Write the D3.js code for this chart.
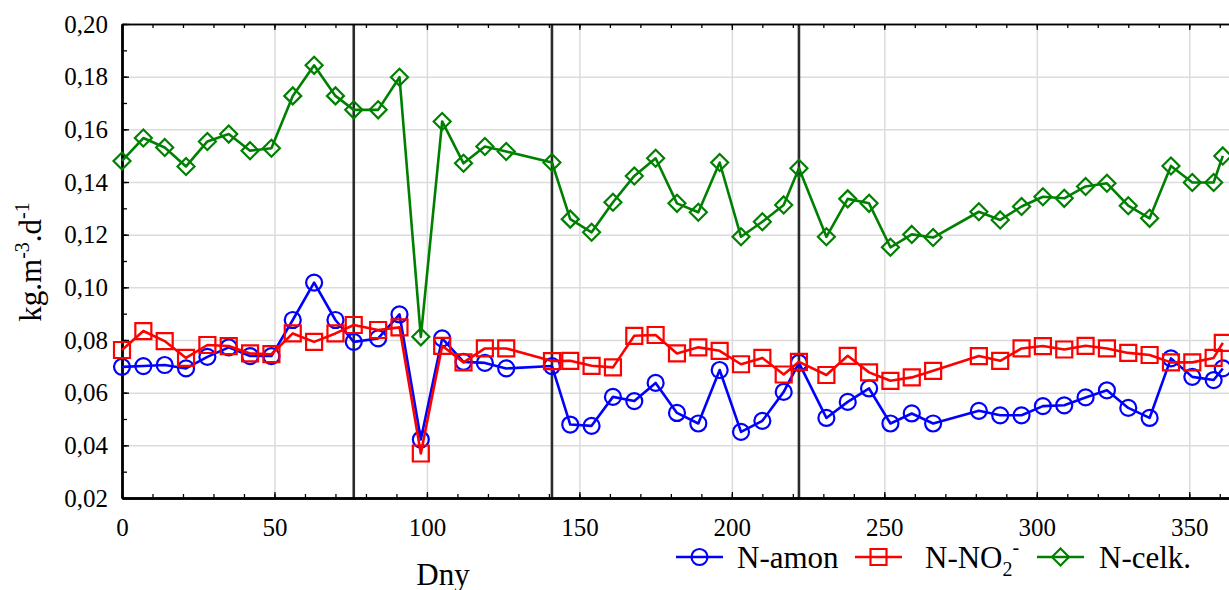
<!DOCTYPE html>
<html>
<head>
<meta charset="utf-8">
<script src="https://cdn.jsdelivr.net/npm/d3@7"></script>
<style>
  body { margin: 0; background: #fff; }
  .grid line { stroke: #dcdcdc; stroke-width: 1.5; }
  .grid path { display: none; }
  .axis path { stroke: #000; }
  .axis line { stroke: #000; stroke-width: 1.3; }
  .series { fill: none; stroke-width: 2.6; stroke-linejoin: round; }
  .mark { fill: none; stroke-width: 2.2; }
  .breakLine { stroke: #2b2b2b; stroke-width: 2.6; }
</style>
</head>
<body>
<div id="chart"></div>
<script>
// Nitrogen loading over the year

var days = [0, 7, 14, 21, 28, 35, 42, 49, 56, 63, 70,
            76, 84, 91, 98, 105, 112, 119, 126,
            141,
            147, 154, 161, 168, 175, 182, 189, 196, 203, 210, 217,
            222,
            231, 238, 245, 252, 259, 266,
            281, 288, 295, 302, 309, 316, 323, 330, 337, 344, 351, 358,
            361];

var nAmon = [0.0698, 0.0701, 0.0705, 0.0692, 0.0736, 0.0772, 0.0739, 0.0739, 0.0876, 0.1018, 0.0876,
             0.0793, 0.0806, 0.0897, 0.0422, 0.0806, 0.0717, 0.0713, 0.0692,
             0.0701,
             0.0479, 0.0474, 0.0584, 0.0568, 0.0637, 0.0523, 0.0483, 0.0686, 0.0451, 0.0493, 0.0603,
             0.0713,
             0.0504, 0.0565, 0.0616, 0.0483, 0.0521, 0.0483,
             0.0531, 0.0514, 0.0514, 0.0549, 0.0552, 0.0582, 0.0609, 0.0542, 0.0504, 0.0730, 0.0660, 0.0648,
             0.0692];

var nNO2 = [0.0762, 0.0834, 0.0796, 0.0732, 0.0781, 0.0777, 0.0749, 0.0746, 0.0825, 0.0793, 0.0825,
            0.0857, 0.0838, 0.0848, 0.0369, 0.0778, 0.0715, 0.0768, 0.0768,
            0.0720,
            0.0721, 0.0702, 0.0696, 0.0816, 0.0819, 0.0749, 0.0772, 0.0759, 0.0708, 0.0732, 0.0669,
            0.0717,
            0.0667, 0.0740, 0.0677, 0.0645, 0.0658, 0.0683,
            0.0739, 0.0721, 0.0768, 0.0777, 0.0764, 0.0778, 0.0768, 0.0751, 0.0743, 0.0715, 0.0715, 0.0732,
            0.0789];

var nCelk = [0.1480, 0.1567, 0.1531, 0.1459, 0.1554, 0.1582, 0.1519, 0.1528, 0.1727, 0.1843, 0.1727,
             0.1674, 0.1674, 0.1798, 0.0812, 0.1630, 0.1471, 0.1535, 0.1516,
             0.1474,
             0.1259, 0.1209, 0.1323, 0.1423, 0.1490, 0.1319, 0.1285, 0.1474, 0.1192, 0.1249, 0.1313,
             0.1452,
             0.1192, 0.1336, 0.1319, 0.1152, 0.1201, 0.1189,
             0.1287, 0.1256, 0.1307, 0.1344, 0.1338, 0.1383, 0.1395, 0.1310, 0.1262, 0.1461, 0.1398, 0.1398,
             0.1499];

// phase boundaries (black vertical lines)
var breaks = [76, 141, 222];

var xTicks = [0, 50, 100, 150, 200, 250, 300, 350];
var yTicks = [0.02, 0.04, 0.06, 0.08, 0.10, 0.12, 0.14, 0.16, 0.18, 0.20];

var serif = "'Liberation Serif', 'Times New Roman', Tinos, 'DejaVu Serif', serif";

var width = 1229, height = 590;
var margin = {left: 122, top: 24};
var innerWidth = 1113, innerHeight = 474;

var svg = d3.select("#chart").append("svg")
    .attr("width", width)
    .attr("height", height)
    .style("font-family", serif);

var g = svg.append("g")
    .attr("transform", "translate(" + margin.left + "," + margin.top + ")");

var x = d3.scaleLinear().domain([0, 365]).range([0, innerWidth]);
var y = d3.scaleLinear().domain([0.02, 0.20]).range([innerHeight, 0]);

var minorX = d3.range(0, 366, 10);
var minorY = d3.range(0.02, 0.2001, 0.01);

// Gridlines
g.append("g").attr("class", "grid")
    .call(d3.axisLeft(y).tickValues(yTicks.slice(1, -1)).tickSize(-innerWidth).tickFormat(""));
g.append("g").attr("class", "grid")
    .attr("transform", "translate(0," + innerHeight + ")")
    .call(d3.axisBottom(x).tickValues(xTicks.slice(1)).tickSize(-innerHeight).tickFormat(""));

// Phase lines
g.selectAll(".breakLine")
    .data(breaks)
    .enter()
    .append("line")
    .attr("class", "breakLine")
    .attr("x1", function (d) { return x(d); })
    .attr("x2", function (d) { return x(d); })
    .attr("y1", 0)
    .attr("y2", innerHeight);

// Axes - ticks point into the plot
function styleTicks(sel, size) {
    sel.select(".domain").attr("stroke-width", size);
    sel.attr("font-family", serif).attr("font-size", 25);
    sel.selectAll("text").attr("fill", "#000").style("font-family", serif).style("font-size", "25px");
}

g.append("g").attr("class", "axis")
    .call(d3.axisLeft(y).tickValues(minorY).tickSize(-5).tickSizeOuter(0).tickFormat(""))
    .call(styleTicks, 2.4);
g.append("g").attr("class", "axis")
    .call(d3.axisLeft(y).tickValues(yTicks).tickSize(-7).tickSizeOuter(0).tickPadding(14)
        .tickFormat(function (d) { return d3.format(".2f")(d).replace(".", ","); }))
    .call(styleTicks, 2.4);

g.append("g").attr("class", "axis")
    .attr("transform", "translate(0," + innerHeight + ")")
    .call(d3.axisBottom(x).tickValues(minorX).tickSize(-4).tickSizeOuter(0).tickFormat(""))
    .call(styleTicks, 2.4);
g.append("g").attr("class", "axis")
    .attr("transform", "translate(0," + innerHeight + ")")
    .call(d3.axisBottom(x).tickValues(xTicks).tickSize(-6).tickSizeOuter(0).tickPadding(20))
    .call(styleTicks, 2.4);

g.append("g").attr("class", "axis")
    .call(d3.axisTop(x).tickValues(minorX).tickSize(-4).tickSizeOuter(0).tickFormat(""))
    .call(styleTicks, 1.6);
g.append("g").attr("class", "axis")
    .call(d3.axisTop(x).tickValues(xTicks).tickSize(-6).tickSizeOuter(0).tickFormat(""))
    .call(styleTicks, 1.6);

// Series
var series = [
    {name: "N-amon", values: nAmon, color: "#0000ff", shape: "circle"},
    {name: "N-NO2", values: nNO2, color: "#ff0000", shape: "square"},
    {name: "N-celk.", values: nCelk, color: "#008000", shape: "diamond"}
];

function markerPath(shape) {
    if (shape === "circle") { return d3.symbol().type(d3.symbolCircle).size(Math.PI * 8 * 8)(); }
    if (shape === "square") { return "M-8,-8H8V8H-8Z"; }
    return "M0,-8.5L8.5,0L0,8.5L-8.5,0Z";
}

var line = d3.line()
    .x(function (d) { return x(d.day); })
    .y(function (d) { return y(d.v); });

series.forEach(function (s) {
    var pts = days.map(function (d, i) { return {day: d, v: s.values[i]}; });
    var sg = g.append("g").attr("class", "serie");
    sg.append("path")
        .attr("class", "series")
        .attr("stroke", s.color)
        .attr("d", line(pts));
    sg.selectAll(".mark")
        .data(pts)
        .enter()
        .append("path")
        .attr("class", "mark")
        .attr("stroke", s.color)
        .attr("transform", function (d) { return "translate(" + x(d.day) + "," + y(d.v) + ")"; })
        .attr("d", markerPath(s.shape));
});

// Axis titles
svg.append("text")
    .attr("x", 443)
    .attr("y", 585)
    .attr("text-anchor", "middle")
    .style("font-family", serif)
    .style("font-size", "31px")
    .text("Dny");

var yLab = svg.append("text")
    .attr("transform", "translate(41,262) rotate(-90)")
    .attr("text-anchor", "middle")
    .style("font-family", serif)
    .style("font-size", "31px");
yLab.append("tspan").text("kg.m");
yLab.append("tspan").attr("dy", -12).style("font-size", "20px").text("-3");
yLab.append("tspan").attr("dy", 12).text(".d");
yLab.append("tspan").attr("dy", -12).style("font-size", "20px").text("-1");

// Legend
var legendX = [676, 855, 1037];
var legend = svg.selectAll(".legend")
    .data(series)
    .enter()
    .append("g")
    .attr("class", "legend")
    .attr("transform", function (d, i) { return "translate(" + legendX[i] + ",557)"; });

legend.append("line")
    .attr("x1", 0).attr("x2", 47)
    .attr("y1", 0).attr("y2", 0)
    .attr("stroke", function (d) { return d.color; })
    .attr("stroke-width", 2.6);
legend.append("path")
    .attr("class", "mark")
    .attr("stroke", function (d) { return d.color; })
    .attr("transform", "translate(23.5,0)")
    .attr("d", function (d) { return markerPath(d.shape); });

var lt = legend.append("text")
    .attr("x", function (d, i) { return i === 0 ? 61 : (i === 1 ? 70 : 62); })
    .attr("y", 11)
    .style("font-family", serif)
    .style("font-size", "31px");
lt.each(function (d) {
    var t = d3.select(this);
    if (d.name === "N-NO2") {
        t.append("tspan").text("N-NO");
        t.append("tspan").attr("dy", 8).style("font-size", "20px").text("2");
        t.append("tspan").attr("dy", -22).style("font-size", "20px").text("-");
    } else {
        t.text(d.name);
    }
});
</script>
</body>
</html>
